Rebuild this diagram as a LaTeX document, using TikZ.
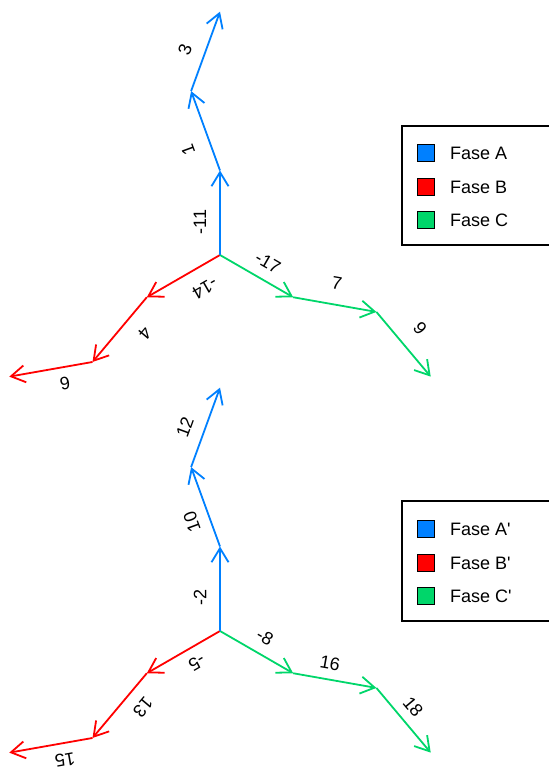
\documentclass[tikz,border=0pt]{standalone}
\usepackage{fontspec}
\setmainfont{Liberation Sans}
\usetikzlibrary{arrows.meta}
\definecolor{phA}{RGB}{0,128,255}
\definecolor{phB}{RGB}{255,0,0}
\definecolor{phC}{RGB}{0,214,106}
\begin{document}
\begin{tikzpicture}[x=1pt,y=1pt,
  seg/.style={line width=1.8pt,-{Straight Barb[length=14pt,width=17pt]}},
  lbl/.style={font=\fontsize{18}{21}\selectfont, inner sep=0pt},
  legbox/.style={draw=black, line width=1.2pt},
  legsq/.style={draw=black, line width=1pt, minimum size=17pt, inner sep=0pt},
  legtxt/.style={font=\fontsize{18}{21}\selectfont, anchor=west, inner sep=0pt}]
\useasboundingbox (0,0) rectangle (549,769);
\clip (0,0) rectangle (549,769);

% ---------- top diagram ----------
\coordinate (tO) at (220,514);
\path (tO) ++(90:84.5) coordinate (tA1) ++(110:84.5) coordinate (tA2) ++(70:84.5) coordinate (tA3);
\path (tO) ++(210:84.5) coordinate (tB1) ++(230:84.5) coordinate (tB2) ++(190:84.5) coordinate (tB3);
\path (tO) ++(-30:84.5) coordinate (tC1) ++(-10:84.5) coordinate (tC2) ++(-50:84.5) coordinate (tC3);
\draw[seg,phB] (tO) -- (tB1);
\draw[seg,phB] (tB1) -- (tB2);
\draw[seg,phB] (tB2) -- (tB3);
\draw[seg,phC] (tO) -- (tC1);
\draw[seg,phC] (tC1) -- (tC2);
\draw[seg,phC] (tC2) -- (tC3);
\draw[seg,phA] (tO) -- (tA1);
\draw[seg,phA] (tA1) -- (tA2);
\draw[seg,phA] (tA2) -- (tA3);
\node[lbl,rotate=90]  (tlA1) at (200,547) {-11};
\node[lbl,rotate=110] (tlA2) at (188,619) {1};
\node[lbl,rotate=70]  (tlA3) at (185,719) {3};
\node[lbl,rotate=210] (tlB1) at (205,481) {-14};
\node[lbl,rotate=230] (tlB2) at (145,436) {4};
\node[lbl,rotate=190] (tlB3) at (65,386) {6};
\node[lbl,rotate=-30] (tlC1) at (268,506) {-17};
\node[lbl,rotate=-10] (tlC2) at (337,486) {7};
\node[lbl,rotate=-50] (tlC3) at (420,441) {9};
\draw[legbox] (402,524) rectangle (560,643);
\node[legsq,fill=phA] (tsqA) at (426,616) {};
\node[legsq,fill=phB] (tsqB) at (426,582) {};
\node[legsq,fill=phC] (tsqC) at (426,549) {};
\node[legtxt] (ttxA) at (450,616) {Fase A};
\node[legtxt] (ttxB) at (450,582) {Fase B};
\node[legtxt] (ttxC) at (450,549) {Fase C};

% ---------- bottom diagram ----------
\coordinate (bO) at (220,138);
\path (bO) ++(90:84.5) coordinate (bA1) ++(110:84.5) coordinate (bA2) ++(70:84.5) coordinate (bA3);
\path (bO) ++(210:84.5) coordinate (bB1) ++(230:84.5) coordinate (bB2) ++(190:84.5) coordinate (bB3);
\path (bO) ++(-30:84.5) coordinate (bC1) ++(-10:84.5) coordinate (bC2) ++(-50:84.5) coordinate (bC3);
\draw[seg,phB] (bO) -- (bB1);
\draw[seg,phB] (bB1) -- (bB2);
\draw[seg,phB] (bB2) -- (bB3);
\draw[seg,phC] (bO) -- (bC1);
\draw[seg,phC] (bC1) -- (bC2);
\draw[seg,phC] (bC2) -- (bC3);
\draw[seg,phA] (bO) -- (bA1);
\draw[seg,phA] (bA1) -- (bA2);
\draw[seg,phA] (bA2) -- (bA3);
\node[lbl,rotate=90]  (blA1) at (200,172) {-2};
\node[lbl,rotate=110] (blA2) at (192,247) {10};
\node[lbl,rotate=70]  (blA3) at (185,342) {12};
\node[lbl,rotate=210] (blB1) at (197,106) {-5};
\node[lbl,rotate=230] (blB2) at (143,62) {13};
\node[lbl,rotate=190] (blB3) at (65,9) {15};
\node[lbl,rotate=-30] (blC1) at (265,132) {-8};
\node[lbl,rotate=-10] (blC2) at (330,106) {16};
\node[lbl,rotate=-50] (blC3) at (413,62) {18};
\draw[legbox] (402,148) rectangle (560,268);
\node[legsq,fill=phA] (bsqA) at (426,240) {};
\node[legsq,fill=phB] (bsqB) at (426,206) {};
\node[legsq,fill=phC] (bsqC) at (426,173) {};
\node[legtxt] (btxA) at (450,240) {Fase A\textquotesingle};
\node[legtxt] (btxB) at (450,206) {Fase B\textquotesingle};
\node[legtxt] (btxC) at (450,173) {Fase C\textquotesingle};
\end{tikzpicture}
\end{document}
